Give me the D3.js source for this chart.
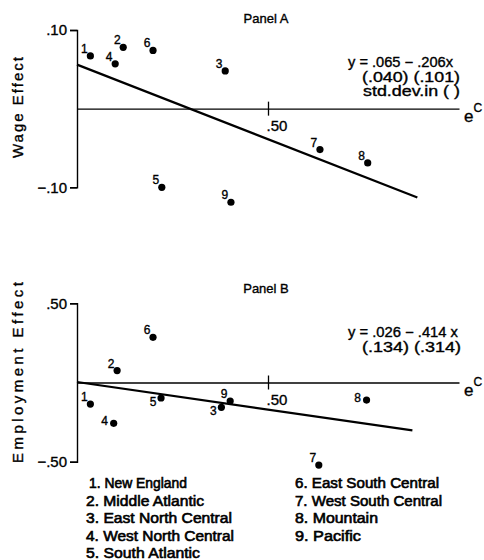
<!DOCTYPE html>
<html>
<head>
<meta charset="utf-8">
<script src="https://cdn.jsdelivr.net/npm/d3@7"></script>
<style>
  body { margin: 0; background: #fff; }
  svg text { font-family: "Liberation Sans", Arial, sans-serif; fill: #000; stroke: #000; stroke-width: 0.35px; }
</style>
</head>
<body>
<svg id="chart" width="484" height="560"></svg>
<script>
// ---------------- DATA ----------------
const regionIds = ["1","2","3","4","5","6","7","8","9"];
const regionNames = ["New England","Middle Atlantic","East North Central","West North Central","South Atlantic",
                     "East South Central","West South Central","Mountain","Pacific"];

// Panel A: concentration (e^C) vs wage effect
const ecA = [0.035, 0.121, 0.388, 0.100, 0.222, 0.199, 0.636, 0.761, 0.403];
const wageEffect = [0.067, 0.078, 0.048, 0.057, -0.100, 0.074, -0.052, -0.069, -0.119];
const lineA_x = [0, 0.891];
const lineA_y = [0.056, -0.113];
const eqA = ["y = .065 − .206x", "(.040)  (.101)", "std.dev.in (  )"];

// Panel B: concentration (e^C) vs employment effect
const ecB = [0.035, 0.105, 0.378, 0.096, 0.220, 0.199, 0.633, 0.758, 0.401];
const empEffect = [-0.136, 0.075, -0.157, -0.258, -0.098, 0.285, -0.521, -0.111, -0.117];
const lineB_x = [0, 0.878];
const lineB_y = [0.003, -0.302];
const eqB = ["y = .026 − .414 x", "(.134)  (.314)"];

const yTicksA = [-0.10, 0.10];
const yTicksB = [-0.50, 0.50];
const xTicks = [0.50];

// label placement keywords (layout only)
const labelPosA = ["ul","ul","ul","ul","ul","ul","ul","ul","ul"];
const labelPosB = ["ul","ul","dl","l","dl","ul","ul","l","ul"];

// ---------------- DRAW ----------------
const svg = d3.select("#chart");
const fmt = v => (v < 0 ? "−" : "") + d3.format(".2f")(Math.abs(v)).replace(/^0/, "");
const offs = { ul: [-6, -7], l: [-9, -2], dl: [-8, 4] };

const x = d3.scaleLinear().domain([0, 1]).range([77, 459]);

function panel(opts) {
  const g = svg.append("g");
  const y = d3.scaleLinear().domain(opts.yDomain).range(opts.yRange);
  const y0 = y(0);

  // title
  g.append("text").attr("x", 266).attr("y", opts.titleY)
    .attr("text-anchor", "middle").attr("font-size", 13).text(opts.title);

  // y axis (bracket style)
  const ya = g.append("g").attr("transform", "translate(77,0)")
    .call(d3.axisLeft(y).tickValues(opts.yTicks).tickSizeInner(7).tickSizeOuter(7).tickPadding(3).tickFormat(fmt));
  ya.selectAll("path, line").attr("stroke", "#000").attr("stroke-width", 1.4);
  ya.selectAll("text").attr("font-size", 15).attr("font-family", "Liberation Sans, Arial, sans-serif").attr("fill", "#000");

  // x axis (zero line)
  const xa = g.append("g").attr("transform", `translate(0,${y0})`)
    .call(d3.axisBottom(x).tickValues(xTicks).tickSizeOuter(0).tickSizeInner(7).tickFormat(d3.format(".2f")));
  xa.select("path.domain").attr("stroke", "#000").attr("stroke-width", 1.3);
  xa.selectAll(".tick line").attr("stroke", "#000").attr("stroke-width", 1.3).attr("y1", -7).attr("y2", 7);
  xa.selectAll(".tick text").text(d => fmt(d)).attr("font-size", 15)
    .attr("font-family", "Liberation Sans, Arial, sans-serif").attr("fill", "#000")
    .attr("text-anchor", "start").attr("x", -2).attr("y", 12);

  // e^C label
  const ec = g.append("text").attr("x", 464).attr("y", y0 + 13).attr("font-size", 17);
  ec.append("tspan").text("e");
  ec.append("tspan").attr("dy", -10).attr("font-size", 12).text("C");

  // y label
  g.append("text")
    .attr("transform", `translate(${opts.yLabelX},${opts.yLabelY}) rotate(-90)`)
    .attr("text-anchor", "middle").attr("font-size", 15)
    .attr("textLength", opts.yLabelLen).attr("lengthAdjust", "spacing")
    .text(opts.yLabel);

  // regression line
  g.append("line")
    .attr("x1", x(opts.lx[0])).attr("y1", y(opts.ly[0]))
    .attr("x2", x(opts.lx[1])).attr("y2", y(opts.ly[1]))
    .attr("stroke", "#000").attr("stroke-width", 2.2);

  // points
  const pts = opts.xs.map((v, i) => ({ x: v, y: opts.ys[i], id: regionIds[i], pos: opts.lp[i] }));
  g.selectAll("circle.pt").data(pts).join("circle").attr("class", "pt")
    .attr("cx", d => x(d.x)).attr("cy", d => y(d.y)).attr("r", 3.6).attr("fill", "#000");
  g.selectAll("text.pl").data(pts).join("text").attr("class", "pl")
    .attr("x", d => x(d.x) + offs[d.pos][0]).attr("y", d => y(d.y) + offs[d.pos][1])
    .attr("text-anchor", "middle").attr("dominant-baseline", "central")
    .attr("font-size", 12).text(d => d.id);

  // equation
  opts.eq.forEach((t, i) => {
    g.append("text").attr("x", opts.eqX[i]).attr("y", opts.eqY + i * 14.5)
      .attr("font-size", 14).attr("textLength", opts.eqLen[i]).attr("lengthAdjust", "spacingAndGlyphs")
      .text(t);
  });
}

panel({
  title: "Panel A", titleY: 23,
  yDomain: [-0.1, 0.1], yRange: [187.3, 30], yTicks: yTicksA,
  yLabel: "Wage Effect", yLabelX: 23, yLabelY: 107.5, yLabelLen: 101,
  xs: ecA, ys: wageEffect, lx: lineA_x, ly: lineA_y, lp: labelPosA,
  eq: eqA, eqX: [348, 362, 363], eqY: 67, eqLen: [105, 98, 97]
});

panel({
  title: "Panel B", titleY: 293,
  yDomain: [-0.5, 0.5], yRange: [461.7, 303.3], yTicks: yTicksB,
  yLabel: "Employment Effect", yLabelX: 23, yLabelY: 372.5, yLabelLen: 181,
  xs: ecB, ys: empEffect, lx: lineB_x, ly: lineB_y, lp: labelPosB,
  eq: eqB, eqX: [348, 362], eqY: 337, eqLen: [110, 99]
});

// legend
const legend = svg.append("g");
const legendItems = regionNames.map((n, i) => ({ id: regionIds[i], name: n, i }));
const legLens = [98, 118, 146, 148, 114, 144, 147, 83, 66];
legend.selectAll("text").data(legendItems).join("text")
  .attr("x", d => d.i < 5 ? (d.i === 0 ? 89 : 86) : 295)
  .attr("y", d => 488 + (d.i < 5 ? d.i : d.i - 5) * 17.6)
  .attr("font-size", 14).style("stroke-width", "0.6px")
  .attr("textLength", d => legLens[d.i]).attr("lengthAdjust", "spacingAndGlyphs")
  .text(d => `${d.id}. ${d.name}`);
</script>
</body>
</html>
